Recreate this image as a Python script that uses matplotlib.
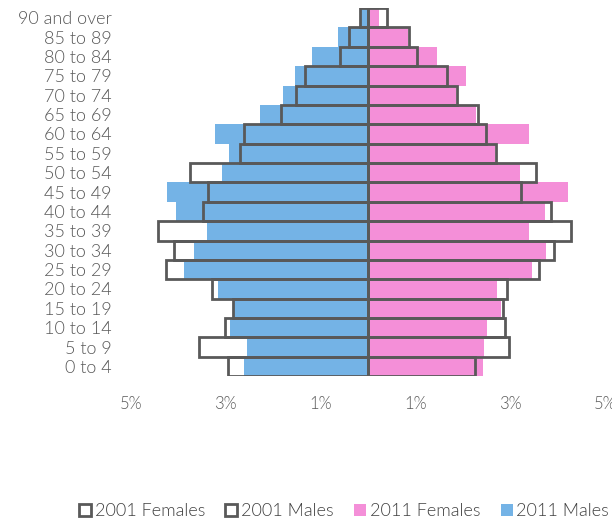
import numpy as np
import matplotlib
matplotlib.use('Agg')
import matplotlib.pyplot as plt
from matplotlib.lines import Line2D

# Age bands, youngest first (bottom of the pyramid)
age_groups = ['0 to 4', '5 to 9', '10 to 14', '15 to 19', '20 to 24', '25 to 29',
              '30 to 34', '35 to 39', '40 to 44', '45 to 49', '50 to 54', '55 to 59',
              '60 to 64', '65 to 69', '70 to 74', '75 to 79', '80 to 84', '85 to 89',
              '90 and over']

# Share of population (%)
males_2011 = [2.61, 2.56, 2.91, 2.82, 3.17, 3.89, 3.68, 3.40, 4.05, 4.23, 3.08, 2.94,
              3.22, 2.27, 1.79, 1.54, 1.19, 0.63, 0.17]
females_2011 = [2.43, 2.45, 2.52, 2.80, 2.72, 3.46, 3.75, 3.40, 3.74, 4.21, 3.20, 2.68,
                3.40, 2.28, 1.85, 2.06, 1.45, 0.84, 0.23]
males_2001 = [2.95, 3.56, 3.01, 2.84, 3.29, 4.26, 4.09, 4.42, 3.47, 3.37, 3.76, 2.71,
              2.61, 1.83, 1.52, 1.32, 0.60, 0.40, 0.17]
females_2001 = [2.25, 2.98, 2.88, 2.85, 2.94, 3.60, 3.92, 4.28, 3.86, 3.22, 3.55, 2.69,
                2.49, 2.31, 1.87, 1.66, 1.03, 0.86, 0.40]

tick_vals = [-5, -3, -1, 1, 3, 5]

blue = '#74B3E6'
pink = '#F48FD8'
edge = '#595959'
text_col = '#595959'

plt.rcParams['font.family'] = ['Lato', 'DejaVu Sans']
plt.rcParams['font.weight'] = 300

fig = plt.figure(figsize=(6.12, 5.21), dpi=100)
ax = fig.add_axes([0.214, 0.278, 0.7746, 0.7066])

y = np.arange(len(age_groups))

# 2011 filled bars
ax.barh(y, -np.array(males_2011), height=1.0, color=blue, linewidth=0)
ax.barh(y, females_2011, height=1.0, color=pink, linewidth=0)

# 2001 outline bars
ax.barh(y, -np.array(males_2001), height=1.0, fill=False, edgecolor=edge, linewidth=2.0)
ax.barh(y, females_2001, height=1.0, fill=False, edgecolor=edge, linewidth=2.0)

ax.set_xlim(-5, 5)
ax.set_ylim(-0.5, len(age_groups) - 0.5)
ax.set_yticks(y)
ax.set_yticklabels(age_groups)
ax.set_xticks(tick_vals)
ax.set_xticklabels([f'{abs(v)}%' for v in tick_vals])
ax.tick_params(axis='y', length=0, colors=text_col, labelsize=13, pad=14)
ax.tick_params(axis='x', length=0, colors=text_col, labelsize=12, pad=14)
for s in ax.spines.values():
    s.set_visible(False)

handles = [
    Line2D([], [], marker='s', linestyle='', markersize=8, markerfacecolor='white',
           markeredgecolor=edge, markeredgewidth=2),
    Line2D([], [], marker='s', linestyle='', markersize=8, markerfacecolor='white',
           markeredgecolor=edge, markeredgewidth=2),
    Line2D([], [], marker='s', linestyle='', markersize=9, markerfacecolor=pink,
           markeredgewidth=0),
    Line2D([], [], marker='s', linestyle='', markersize=9, markerfacecolor=blue,
           markeredgewidth=0),
]
fig.legend(handles, ['2001 Females', '2001 Males', '2011 Females', '2011 Males'],
           loc='lower left', bbox_to_anchor=(0.1, -0.028), ncol=4, frameon=False,
           fontsize=13, handlelength=0.8, handletextpad=0.15, columnspacing=1.05,
           labelcolor='#404040')

fig.savefig('out.png', dpi=100)
